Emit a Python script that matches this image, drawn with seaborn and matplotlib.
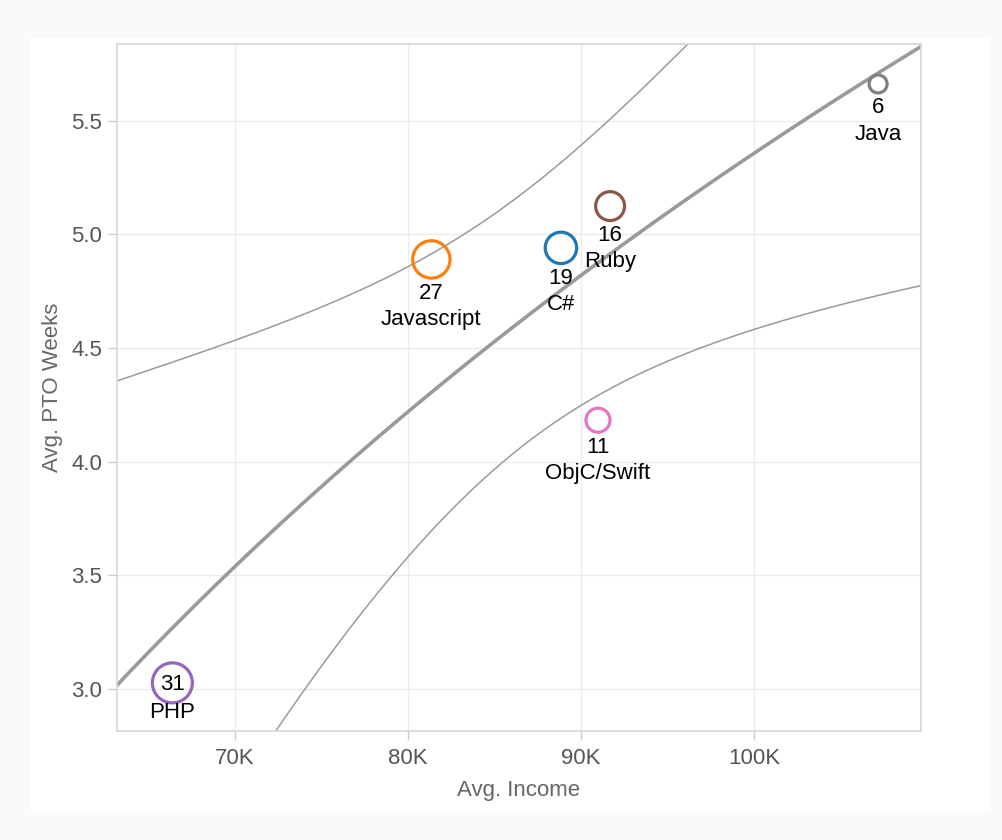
import numpy as np
import pandas as pd
import matplotlib
matplotlib.use('Agg')
import matplotlib.pyplot as plt
from matplotlib.ticker import FuncFormatter
from matplotlib.patches import Rectangle
import seaborn as sns

# values
languages = ['PHP', 'Javascript', 'C#', 'Ruby', 'ObjC/Swift', 'Java']
avg_income = [66380, 81350, 88840, 91680, 90980, 107170]
avg_pto_weeks = [3.025, 4.89, 4.941, 5.125, 4.182, 5.663]
counts = [31, 27, 19, 16, 11, 6]
colors = ['#9467bd', '#ff7f0e', '#1f77b4', '#8c564b', '#e377c2', '#7f7f7f']
x_ticks = [70000, 80000, 90000, 100000]
y_ticks = [3.0, 3.5, 4.0, 4.5, 5.0, 5.5]

df = pd.DataFrame({'lang': languages, 'income': avg_income,
                   'pto': avg_pto_weeks, 'n': counts})

sns.set_style('white')
plt.rcParams['font.family'] = ['Liberation Sans', 'DejaVu Sans']

W, H = 1002, 840
fig = plt.figure(figsize=(W / 100, H / 100), dpi=100, facecolor='#fafafa')
fig.add_artist(Rectangle((30 / W, 1 - 812 / H), 960 / W, 774 / H,
                         transform=fig.transFigure, facecolor='white',
                         edgecolor='none', zorder=-10))
ax = fig.add_axes([117 / W, 1 - 731 / H, 804 / W, 687 / H])
ax.set_xlim(63180, 109650)
ax.set_ylim(2.813, 5.839)

# log trend line (Tableau style) + 95% confidence band of the mean
line_grey = '#9a9a9a'
sns.regplot(data=df, x='income', y='pto', logx=True, scatter=False, ci=None,
            truncate=False, color=line_grey, line_kws={'linewidth': 2.6},
            ax=ax)

lx = np.log(df['income'].values)
yv = df['pto'].values
b, a = np.polyfit(lx, yv, 1)
resid = yv - (a + b * lx)
n = len(yv)
s = np.sqrt((resid ** 2).sum() / (n - 2))
sxx = ((lx - lx.mean()) ** 2).sum()
grid = np.linspace(*ax.get_xlim(), 400)
lg = np.log(grid)
fit = a + b * lg
hw = 2.776 * s * np.sqrt(1 / n + (lg - lx.mean()) ** 2 / sxx)
ax.plot(grid, fit + hw, color=line_grey, lw=1.1)
ax.plot(grid, fit - hw, color=line_grey, lw=1.1)

# hollow circles sized by count
smin, smax = 168, 829
sns.scatterplot(data=df, x='income', y='pto', hue='lang',
                palette=dict(zip(languages, colors)), size='n',
                sizes=(smin, smax), legend=False, ax=ax, zorder=4)
pts = ax.collections[-1]
fc = pts.get_facecolors()
pts.set_edgecolors(fc)
pts.set_facecolors('none')
pts.set_linewidths(2.3)

for lang, x, y, c in zip(languages, avg_income, avg_pto_weeks, counts):
    area = smin + (c - min(counts)) / (max(counts) - min(counts)) * (smax - smin)
    r = np.sqrt(area) / 2
    if lang == 'PHP':
        off1, off2 = -1.5, -21
    else:
        off1 = -(r + 10.8)
        off2 = off1 - 19
    ax.annotate(str(c), (x, y), xytext=(0, off1), textcoords='offset points',
                ha='center', va='center', fontsize=16, color='black', zorder=5)
    ax.annotate(lang, (x, y), xytext=(0, off2), textcoords='offset points',
                ha='center', va='center', fontsize=16, color='black', zorder=5)

ax.set_xticks(x_ticks)
ax.set_yticks(y_ticks)
ax.xaxis.set_major_formatter(FuncFormatter(lambda v, p: f'{v / 1000:.0f}K'))
ax.yaxis.set_major_formatter(FuncFormatter(lambda v, p: f'{v:.1f}'))
ax.tick_params(bottom=True, left=True, length=6.5, width=1, color='#cccccc',
               labelcolor='#555555', labelsize=16)
ax.tick_params(axis='x', pad=6)
ax.tick_params(axis='y', pad=4)
ax.grid(True, color='#ebebeb', linewidth=1)
ax.set_axisbelow(True)
for sp in ax.spines.values():
    sp.set_color('#d6d6d6')
    sp.set_linewidth(1.2)

ax.set_xlabel('Avg. Income', fontsize=16, color='#666666', labelpad=8)
ax.set_ylabel('Avg. PTO Weeks', fontsize=16, color='#666666', labelpad=6)

fig.savefig('out.png', dpi=100, facecolor=fig.get_facecolor())
